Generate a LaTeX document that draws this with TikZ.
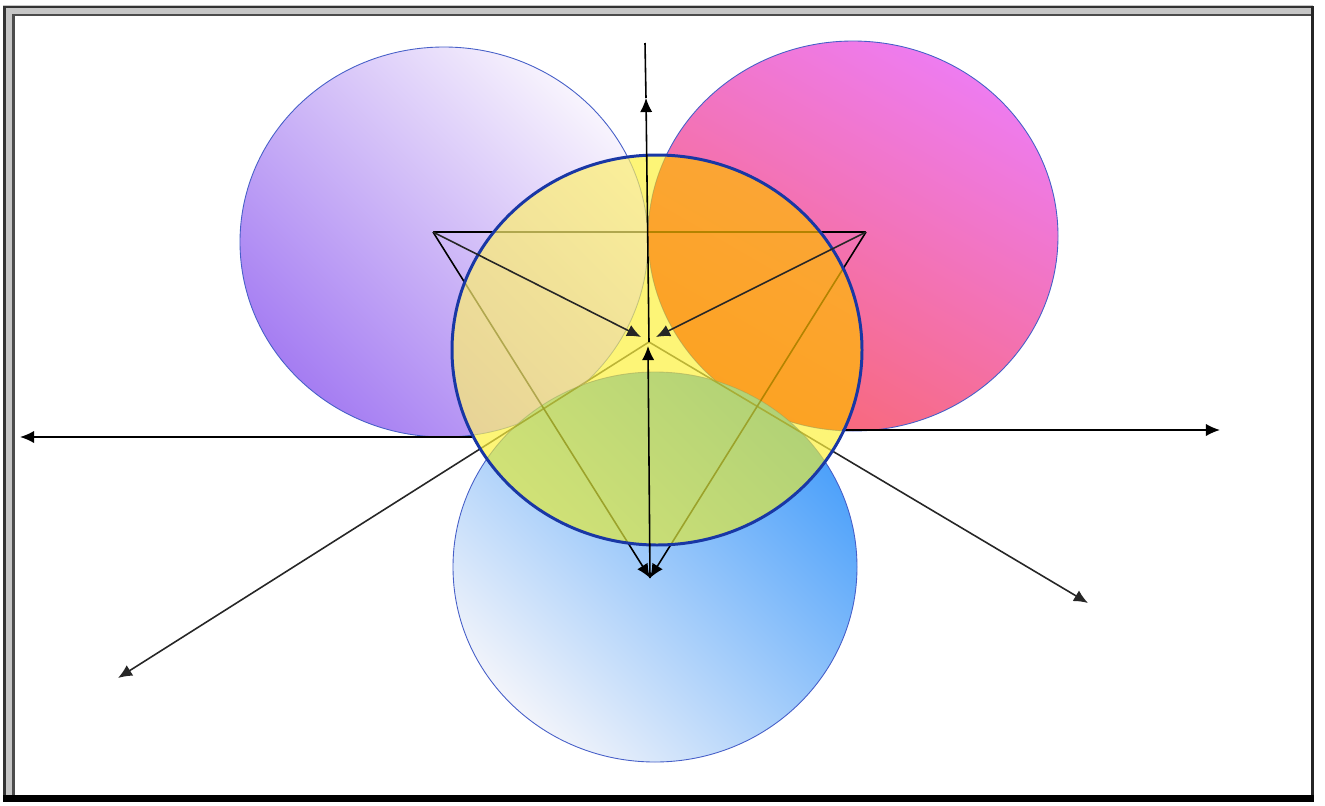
\documentclass[tikz,border=0pt]{standalone}
\usepackage{tikz}
\usetikzlibrary{arrows.meta}

\definecolor{violetFonce}{RGB}{165,125,242}
\definecolor{violetClair}{RGB}{248,244,253}
\definecolor{roseHaut}{RGB}{238,124,240}
\definecolor{roseBas}{RGB}{248,104,118}
\definecolor{bleuFonce}{RGB}{75,160,250}
\definecolor{bleuClair}{RGB}{242,244,250}
\definecolor{bordBleu}{RGB}{70,95,200}
\definecolor{bordJaune}{RGB}{25,55,165}
\definecolor{jaunePur}{RGB}{253,241,62}
\definecolor{jauneViolet}{RGB}{252,238,112}
\definecolor{jauneRose}{RGB}{255,188,0}
\definecolor{jauneBleu}{RGB}{222,232,62}

\begin{document}
\begin{tikzpicture}[x=0.02cm, y=0.02cm, >={Latex[length=8pt,width=7pt]},
	axe/.style={line width=0.9pt, black},
	rayon/.style={line width=0.9pt, black!85},
	bord/.style={draw=bordBleu, line width=0.5pt}]
	\useasboundingbox (0,0) rectangle (1325,-805);
	
	% --- Cadre ---
	\fill[gray!45] (3,-5) rectangle (1313,-800);
	\fill[white] (15,-16) rectangle (1311,-795);
	\draw[line width=1.5pt, black!80] (4.5,-800) -- (4.5,-7) -- (1313,-7);
	\draw[line width=1.3pt, black!70] (13.5,-796) -- (13.5,-15) -- (1311,-15);
	\draw[line width=1.8pt, black!85] (1312.5,-6) -- (1312.5,-801);
	\draw[line width=4pt, black] (3,-798.5) -- (1314,-798.5);
	
	% --- Points ---
	\coordinate (cViolet) at (444,-242);
	\coordinate (cRose) at (853,-236);
	\coordinate (cBleu) at (655,-567);
	\coordinate (cJaune) at (657,-350);
	\coordinate (sommetG) at (433,-232);
	\coordinate (sommetD) at (866,-232);
	\coordinate (pointe) at (650,-578);
	\coordinate (centre) at (649,-342);
	\coordinate (basG) at (118,-678);
	\coordinate (basD) at (1088,-603);
	\coordinate (horizG) at (20,-437);
	\coordinate (departG) at (474,-437);
	\coordinate (horizD) at (1220,-430);
	\coordinate (departD) at (842,-430);
	\coordinate (flecheHaut) at (646,-98);
	\coordinate (axeHaut) at (645,-43);
	
	% --- Cercles du fond ---
	\shadedraw[top color=violetClair, bottom color=violetFonce, shading angle=-45, bord] (cViolet) ellipse [x radius=204, y radius=195];
	\shadedraw[top color=roseHaut, bottom color=roseBas, shading angle=-30, bord] (cRose) ellipse [x radius=205, y radius=195];
	\shadedraw[top color=bleuFonce, bottom color=bleuClair, shading angle=-45, bord] (cBleu) ellipse [x radius=202, y radius=195];
	
	% --- Lignes sous le cercle jaune ---
	\draw[rayon, ->] (centre) -- (basG);
	\draw[rayon, ->] (centre) -- (basD);
	\draw[axe, ->] (departG) -- (horizG);
	\draw[axe, ->] (departD) -- (horizD);
	\draw[axe] (sommetG) -- (sommetD);
	\draw[axe, ->] (sommetG) -- (pointe);
	\draw[axe, ->] (sommetD) -- (pointe);
	
	% --- Cercle jaune (transparent) ---
	\begin{scope}[transparency group, opacity=0.7]
		\fill[jaunePur] (cJaune) ellipse [x radius=205, y radius=195];
		\begin{scope}
			\clip (cViolet) ellipse [x radius=204, y radius=195];
			\fill[jauneViolet] (cJaune) ellipse [x radius=205, y radius=195];
		\end{scope}
		\begin{scope}
			\clip (cRose) ellipse [x radius=205, y radius=195];
			\fill[jauneRose] (cJaune) ellipse [x radius=205, y radius=195];
		\end{scope}
		\begin{scope}
			\clip (cBleu) ellipse [x radius=202, y radius=195];
			\fill[jauneBleu] (cJaune) ellipse [x radius=205, y radius=195];
		\end{scope}
	\end{scope}
	\draw[draw=bordJaune, line width=1.7pt] (cJaune) ellipse [x radius=205, y radius=195];
	
	% --- Axe vertical et fleches vers le centre ---
	\draw[axe, ->] (pointe) -- (648,-346);
	\draw[axe, ->] (centre) -- (flecheHaut);
	\draw[axe] (flecheHaut) -- (axeHaut);
	\draw[rayon, ->] (sommetG) -- (641,-337);
	\draw[rayon, ->] (sommetD) -- (656,-337);
	
\end{tikzpicture}
\end{document}
